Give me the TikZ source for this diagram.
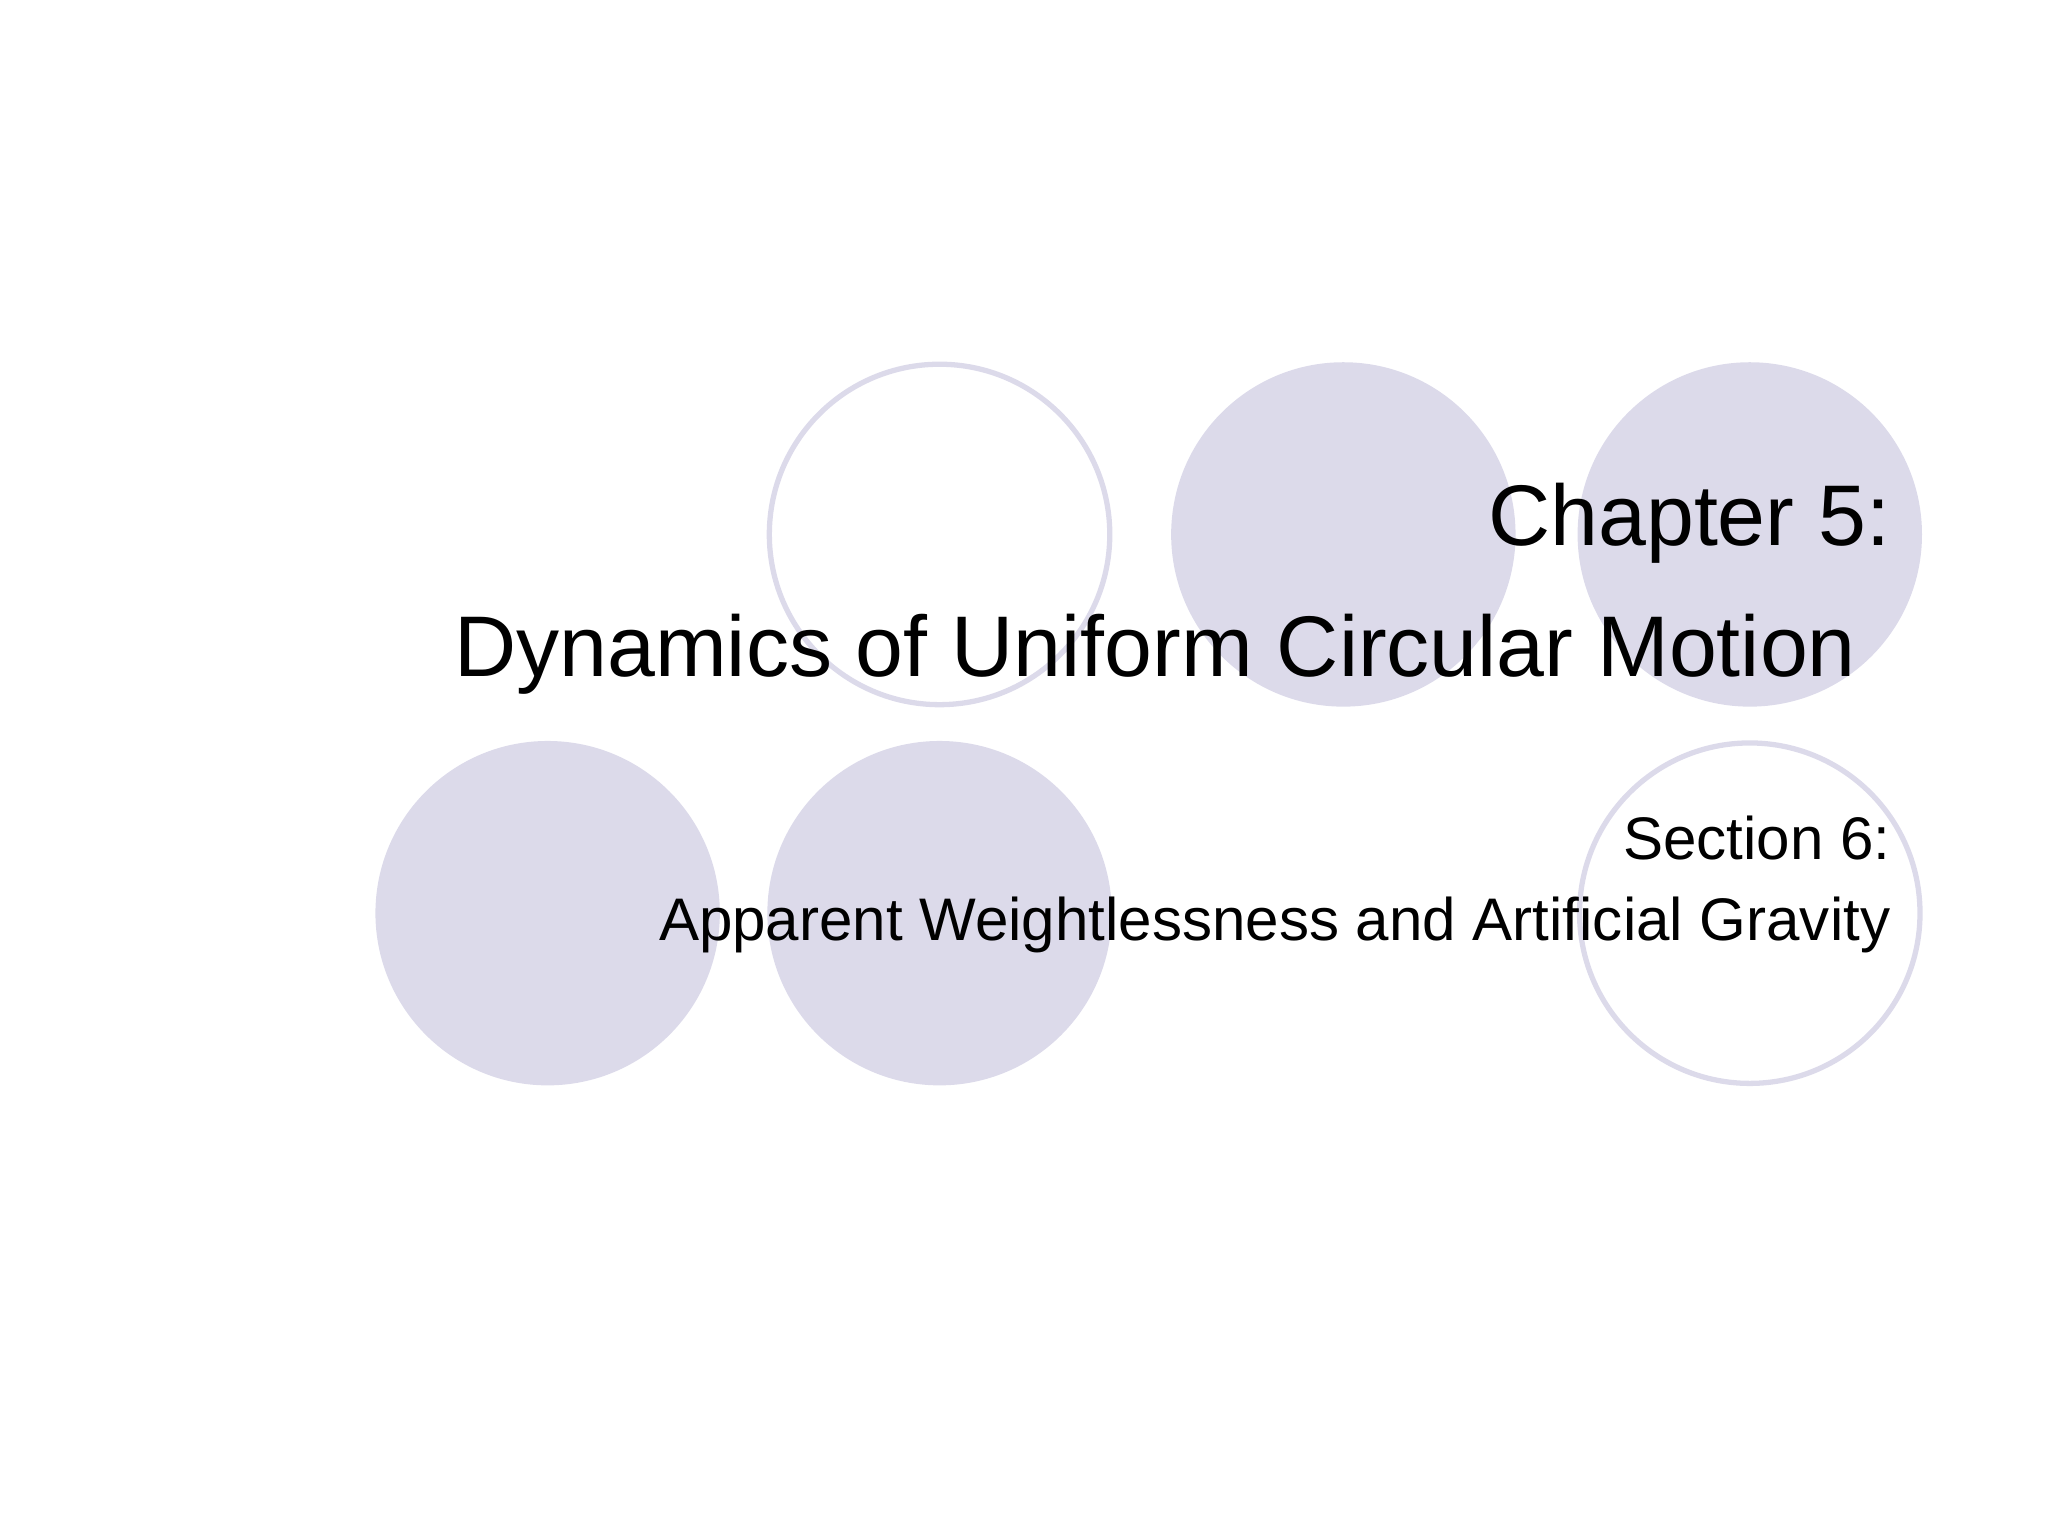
\documentclass[tikz,border=0pt]{standalone}
\usepackage{fontspec}
\setmainfont{Liberation Sans}
\definecolor{lav}{HTML}{DCDAEA}
\begin{document}
\begin{tikzpicture}[x=0.013196cm,y=-0.013196cm,
  filled/.style={circle,fill=lav,minimum size=261*0.013196cm,inner sep=0},
  ring/.style={circle,draw=lav,line width=4*0.3755pt,minimum size=258*0.013196cm,inner sep=0},
  big/.style={anchor=base east,inner sep=0,font=\fontsize{24.5}{29}\selectfont},
  small/.style={anchor=base east,inner sep=0,font=\fontsize{17.1}{21}\selectfont}]
\path[use as bounding box] (0,0) rectangle (1552,1164);
\node[ring] (c1) at (712,405) {};
\node[filled] (c2) at (1018,405) {};
\node[filled] (c3) at (1326,405) {};
\node[filled] (c4) at (415,692) {};
\node[filled] (c5) at (712,692) {};
\node[ring] (c6) at (1326,692) {};
\node[big] (t1) at (1433,413) {Chapter 5:};
\node[big] (t2) at (1407,513) {Dynamics of Uniform Circular Motion};
\node[small] (t3) at (1433,651) {Section 6:};
\node[small] (t4) at (1433,713) {Apparent Weightlessness and Artificial Gravity};
\end{tikzpicture}
\end{document}
